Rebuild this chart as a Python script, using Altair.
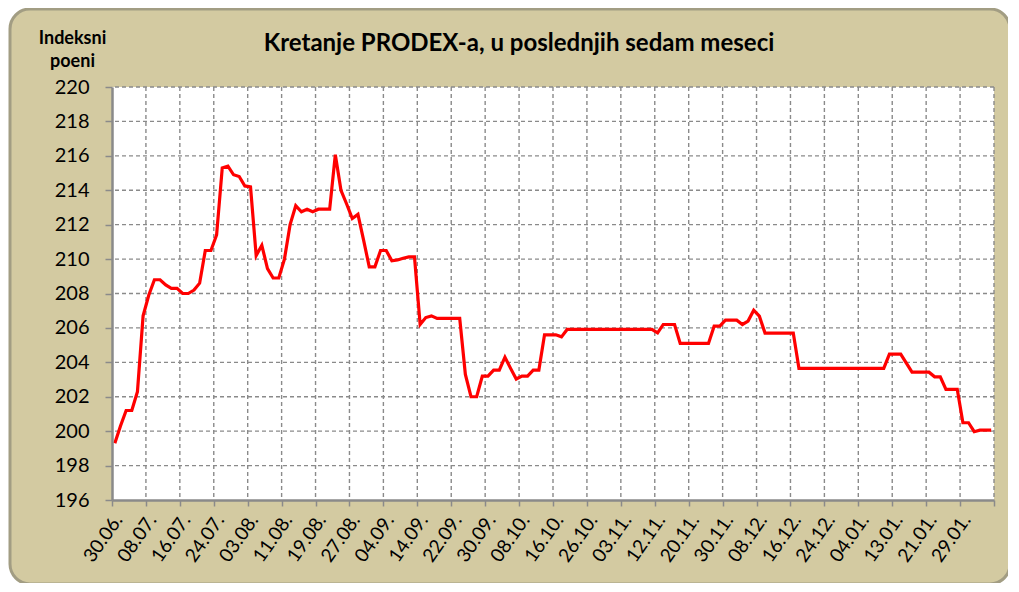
import json
import altair as alt
import pandas as pd

# PRODEX index, one value per trading day (30.06. - 05.02.)
values = [
    199.3, 200.3, 201.2, 201.2, 202.3, 206.7, 207.9, 208.8, 208.8, 208.5,
    208.3, 208.3, 208.0, 208.0, 208.2, 208.6, 210.5, 210.5, 211.4, 215.3,
    215.4, 214.9, 214.8, 214.25, 214.2, 210.2, 210.8, 209.45, 208.9, 208.9,
    210.0, 212.0, 213.1, 212.75, 212.9, 212.75, 212.9, 212.9, 212.9, 216.07,
    214.0, 213.2, 212.36, 212.6, 211.1, 209.55, 209.55, 210.5, 210.5, 209.9,
    209.95, 210.05, 210.13, 210.13, 206.2, 206.6, 206.7, 206.55, 206.55, 206.55,
    206.55, 206.55, 203.3, 202.0, 202.0, 203.2, 203.2, 203.55, 203.55, 204.3,
    203.65, 203.03, 203.2, 203.2, 203.55, 203.55, 205.6, 205.6, 205.6, 205.48,
    205.91, 205.91, 205.91, 205.91, 205.91, 205.91, 205.91, 205.91, 205.91, 205.91,
    205.91, 205.91, 205.91, 205.91, 205.91, 205.91, 205.71, 206.2, 206.2, 206.2,
    205.1, 205.1, 205.1, 205.1, 205.1, 205.1, 206.1, 206.1, 206.45, 206.45,
    206.45, 206.2, 206.4, 207.03, 206.68, 205.7, 205.7, 205.7, 205.7, 205.7,
    205.7, 203.65, 203.65, 203.65, 203.65, 203.65, 203.65, 203.65, 203.65, 203.65,
    203.65, 203.65, 203.65, 203.65, 203.65, 203.65, 203.65, 204.48, 204.48, 204.48,
    203.95, 203.43, 203.43, 203.43, 203.43, 203.16, 203.16, 202.43, 202.43, 202.43,
    200.49, 200.49, 199.97, 200.06, 200.06, 200.06,
]

# category labels, one every 6 trading days
tick_labels = [
    "30.06.", "08.07.", "16.07.", "24.07.", "03.08.", "11.08.", "19.08.",
    "27.08.", "04.09.", "14.09.", "22.09.", "30.09.", "08.10.", "16.10.",
    "26.10.", "03.11.", "12.11.", "20.11.", "30.11.", "08.12.", "16.12.",
    "24.12.", "04.01.", "13.01.", "21.01.", "29.01.",
]
y_ticks = [196, 198, 200, 202, 204, 206, 208, 210, 212, 214, 216, 218, 220]

title_text = "Kretanje PRODEX-a, u poslednjih sedam meseci"
y_title = ["Indeksni", "poeni"]

N = len(values)
STEP = 6
x_ticks = list(range(0, N + 1, STEP))

df = pd.DataFrame({"pos": [i + 0.5 for i in range(N)], "v": values})
vgrid = pd.DataFrame({"pos": x_ticks[1:]})
hgrid = pd.DataFrame({"v": y_ticks[1:]})
one = pd.DataFrame({"a": [0]})

W, H = 882, 413
FONT = "Lato"
GRID = "#8a8a8a"

x_scale = alt.Scale(domain=[0, N], nice=False, zero=False)
y_scale = alt.Scale(domain=[196, 220], nice=False, zero=False)

label_expr = "(" + json.dumps(tick_labels) + ")[round(datum.value / 6)] || ''"

X = alt.X(
    "pos:Q",
    scale=x_scale,
    axis=alt.Axis(
        values=x_ticks,
        labelExpr=label_expr,
        labelAngle=-55,
        labelAlign="right",
        labelBaseline="middle",
        labelFont=FONT,
        labelFontSize=19,
        labelColor="black",
        labelPadding=10,
        labelOffset=6,
        labelOverlap=False,
        labelFlush=False,
        grid=False,
        domainColor=GRID,
        domainWidth=2.5,
        tickColor=GRID,
        tickWidth=1.5,
        tickSize=6,
        title=None,
        zindex=1,
    ),
)
Y = alt.Y(
    "v:Q",
    scale=y_scale,
    axis=alt.Axis(
        values=y_ticks,
        labelFont=FONT,
        labelFontSize=20,
        labelColor="black",
        labelPadding=16,
        grid=False,
        domainColor=GRID,
        domainWidth=2.5,
        tickColor=GRID,
        tickWidth=1.5,
        tickSize=7,
        title=y_title,
        titleAngle=0,
        titleX=-40,
        titleY=-58,
        titleAlign="center",
        titleBaseline="top",
        titleFont=FONT,
        titleFontSize=18,
        titleFontWeight="bold",
        titleLineHeight=23,
        titleColor="black",
        zindex=1,
    ),
)

frame = alt.Chart(one).mark_rect(
    fill="#d3caa1", stroke="#a29d83", strokeWidth=3, cornerRadius=20
).encode(
    x=alt.value(-102), x2=alt.value(898), y=alt.value(-78), y2=alt.value(497)
)

plotbg = alt.Chart(one).mark_rect(fill="white").encode(
    x=alt.value(0), x2=alt.value(W), y=alt.value(0), y2=alt.value(H)
)

title = alt.Chart(one).mark_text(
    font=FONT, fontSize=24, fontWeight="bold", color="black",
    align="center", baseline="middle",
).encode(text=alt.value(title_text), x=alt.value(407), y=alt.value(-43))

vrules = alt.Chart(vgrid).mark_rule(
    color=GRID, strokeWidth=1.4, strokeDash=[4, 3]
).encode(x=X)

hrules = alt.Chart(hgrid).mark_rule(
    color=GRID, strokeWidth=1.4, strokeDash=[4, 3]
).encode(y=Y)

line = alt.Chart(df).mark_line(color="#ff0000", strokeWidth=3.2).encode(x=X, y=Y)

chart = alt.layer(frame, plotbg, title, vrules, hrules, line).properties(
    width=W,
    height=H,
    padding={"left": 104, "top": 79, "right": 14, "bottom": 83},
    autosize=alt.AutoSizeParams(type="none"),
    background="white",
).configure_view(stroke=None)

chart.save("out.html", embed_options={"renderer": "svg", "actions": False})
